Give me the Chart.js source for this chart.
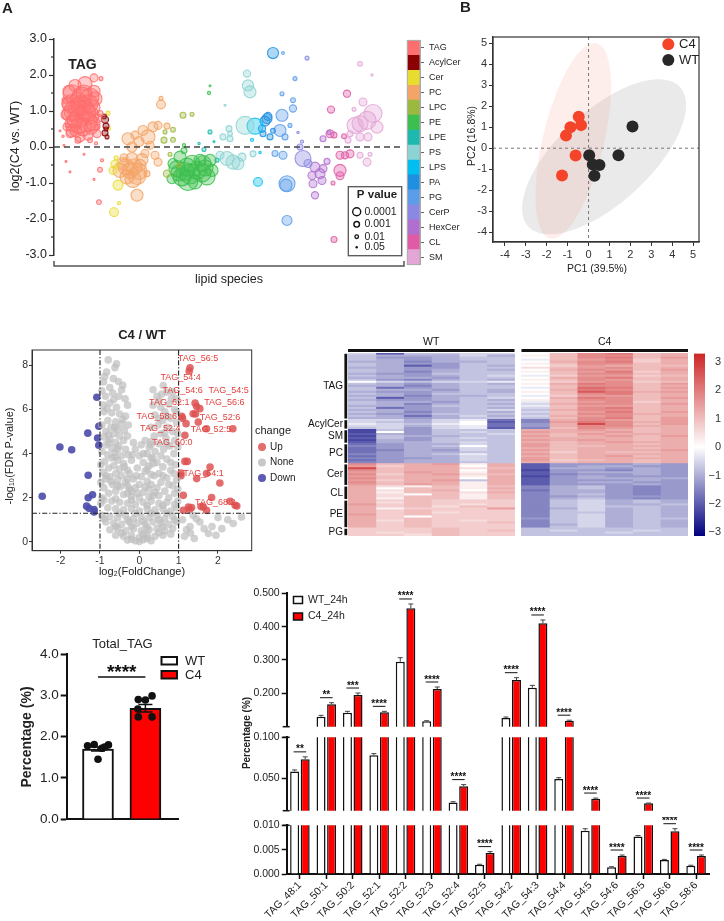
<!DOCTYPE html>
<html>
<head>
<meta charset="utf-8">
<title>C4 vs WT lipidomics</title>
<script src="https://cdn.jsdelivr.net/npm/chart.js@4.4.1/dist/chart.umd.min.js"></script>
<style>
  body { margin: 0; background: #fff; }
  #page { position: relative; width: 724px; height: 921px; overflow: hidden; background: #fff; }
  #page canvas { position: absolute; }
</style>
</head>
<body>
<div id="page"></div>
<script>
// ---------- A: lipid species, [species index, log2(C4/WT), -log10 p] ----------
const lipidClasses = ['TAG','AcylCer','Cer','PC','LPC','PE','LPE','PS','LPS','PA','PG','CerP','HexCer','CL','SM'];
const classColors = ['#FF6E6E','#8B0000','#E8DC2E','#F4A466','#9BB83F','#3CBF4E','#1DB8AE','#8CD3D3','#00BFF0','#1F8FE0','#5C9DEA','#8A88E3','#B06FCF','#E05AA6','#E3A6D6'];
const tagPts = [[40,1.92,2],[18,1.48,4.5],[28,1.39,5],[36,1.39,4.5],[23,1.11,4.5],[31,1.02,5],[16,0.93,4],[26,0.83,5],[36,0.88,4.5],[41,1.34,3.5],[19,0.65,4],[29,0.56,4.5],[39,0.65,3.5],[16,0.37,2],[26,0.28,2.5],[34,0.33,2.5],[43,0.37,2],[14,1.2,3],[21,1.71,3],[31,1.76,3.5],[13,0.56,2],[11,1.3,1.5],[46,0.93,1.5],[43,0.56,1.5],[24,0.19,1.5],[36,0.19,1.2],[20,1.0,5],[33,0.7,5],[24,1.3,4],[30,1.5,4],[38,1.1,4],[12,0.9,2.5],[44,0.8,2],[22,0.45,3],[14,0.6,1],[9,0.3,0.6],[6,0.45,0.5],[10,0.05,0.5],[47,1.9,1],[42,0.1,0.8],
  [17,1.2,4.5],[27,1.15,5],[35,1.2,4.5],[21,0.75,4],[33,0.95,4.5],[25,0.6,4],[37,0.55,3.5],[18,0.45,3],[40,1.55,3],[15,1.55,3],
  [46,-0.63,1.2],[45,-1.53,1.2],[48,-0.37,0.8],[16,-0.69,0.5],[12,-0.4,0.5],[30,-0.2,0.5],[40,-0.9,0.5]];
const acylCerPts = [[51,0.76,1.8],[52,0.58,1.5],[51,0.39,1.5],[53,0.28,1],[50,0.85,1.2],[52,0.5,1]];
const cerPts = [[54,0.94,1],[55,0.51,0.8],[61,-0.48,2],[59,-0.65,2],[64,-1.06,2.5],[60,-1.81,2.2],[65,-1.56,0.8],[62,-0.3,1]];
const pcPts = [[107,1.18,2.2],[107,1.35,1],[74,0.23,3],[94,0.28,3.5],[99,0.56,2.5],[89,0.46,2.5],[104,0.6,2],[81,0.33,2],[113,0.58,1.5],[85,0.15,2.5],[96,0.05,2],[69,-0.46,3],[78,-0.32,3],[66,-0.65,3.5],[76,-0.65,4],[83,-0.79,4.5],[73,-0.83,3.5],[86,-0.51,3],[91,-0.18,2],[101,-0.23,2],[104,-0.42,2],[83,-1.34,3],[93,-0.74,1.5],[78,0,2.5],[70,-0.3,2],[80,-0.55,4],[88,-0.35,3],[72,-0.55,4],[85,-0.68,4],[79,-0.9,4]];
const lpcPts = [[129,0.88,1.5],[138,0.91,1],[119,0.48,1.2],[111,0.42,1],[119,0.2,1.2],[110,0.19,1.5],[113,-0.74,1.8],[116,-0.2,1],[125,-0.5,1]];
const pePts = [[126,-0.28,3],[133,-0.56,4.5],[123,-0.6,4],[128,-0.83,4.5],[134,-0.93,5],[143,-0.65,4.5],[149,-0.46,4],[153,-0.83,4],[156,-0.37,3],[146,-0.37,3],[119,-0.46,2.5],[158,-0.65,3],[118,-0.88,2.5],[141,-0.97,3.5],[138,-0.45,4],[130,-0.1,1.5],[136,-0.75,5],[131,-0.68,4.5],[148,-0.72,4.5],[125,-0.72,4],[151,-0.58,4],[155,1.5,0.8],[156,1.7,0.5],[130,0.05,0.8]];
const lpePts = [[156,0.42,1],[150,-0.07,1],[163,-0.37,1],[145,0.1,0.6],[160,0.15,0.5]];
const psPts = [[193,2.04,1.8],[194,1.71,2.8],[196,1.53,3],[175,0.51,1.5],[169,0.28,1.5],[176,0.23,1.5],[176,0.37,1.2],[171,1.16,0.5],[173,-0.32,3.5],[179,-0.42,3.5],[184,-0.46,3],[166,-0.23,2],[188,-0.28,2],[199,-0.19,1.5],[191,0.6,4.5]];
const lpsPts = [[201,0.58,4],[204,-0.97,2.2],[198,0.2,0.8],[206,-0.15,0.6]];
const paPts = [[219,2.61,2.8],[213,0.79,2.5],[211,0.72,2.5],[208,0.51,1.8],[209,0.37,1.5],[216,0.28,1.5],[214,0.85,2],[219,0.45,1.2]];
const pgPts = [[228,0.88,3],[226,0.46,3],[231,0.28,1.5],[239,1.07,1.8],[241,1.9,1],[239,1.3,1.2],[228,1.48,1],[229,2.61,0.7],[233,-1.02,4],[232,-1.06,3],[233,-2.04,2.5],[229,-0.23,2],[221,-0.18,1.5],[236,0.6,1]];
const cerPPts = [[249,-0.32,4],[254,-0.46,2],[246,0,1.5],[248,0.15,0.8],[253,2.47,1],[244,0.4,0.6]];
const hexCerPts = [[261,-0.56,2.5],[266,-0.74,2.5],[259,-1.02,2],[268,-0.93,2],[261,-1.34,1.8],[269,-0.6,2],[258,-0.79,2],[273,-0.4,1.5],[269,0.23,1.5],[275,0.4,1]];
const clPts = [[277,1.04,1.8],[276,0.37,2],[280,0.33,1.5],[293,1.48,1.8],[286,-0.23,2],[296,-0.19,2],[291,-0.23,1.8],[286,-0.65,3],[286,-0.8,2],[280,-2.57,1.5],[279,-1.0,1],[290,0.3,1.2]];
const smPts = [[319,0.93,4.5],[306,0.65,4],[301,0.6,4],[313,0.74,4.5],[309,1.25,2],[306,2.31,1.2],[314,0.28,2],[306,0.28,2],[296,0.37,1.5],[294,0.19,1.5],[313,-0.42,2],[306,-0.23,1.5],[316,-0.2,1],[323,0.55,3],[300,1.05,1],[318,2.0,0.6]];
const lipidPoints = [tagPts, acylCerPts, cerPts, pcPts, lpcPts, pePts, lpePts, psPts, lpsPts, paPts, pgPts, cerPPts, hexCerPts, clPts, smPts];
const aTicks = [-3,-2,-1,0,1,2,3];
const aMinorTicks = [-2.5,-1.5,-0.5,0.5,1.5,2.5];
const pLegendLabels = ['0.0001','0.001','0.01','0.05'];

// ---------- B: PCA ----------
const pcaC4X = [-0.47,-0.87,-0.36,-1.08,-0.62,-1.27];
const pcaC4Y = [1.5,1.0,1.1,0.6,-0.35,-1.3];
const pcaWTX = [0.03,0.2,0.52,0.28,1.43,2.1];
const pcaWTY = [-0.34,-0.78,-0.8,-1.31,-0.34,1.04];
const c4Ellipse = [-0.73, 0.35, 4.78, 1.46, 76.5];   // centre x, centre y, semi axes, angle
const wtEllipse = [0.74, -0.41, 4.92, 2.2, 42.5];
const pcaTicks = [-4,-3,-2,-1,0,1,2,3,4,5];

// ---------- C: volcano, [log2FC, -log10 FDR] ----------
const noneGenes = [[-0.79,8.25],[-0.58,8.07],[-0.62,7.9],[-0.83,7.7],[-0.53,7.27],[-0.91,7.25],[-0.75,7.0],[-0.36,6.49],[-0.75,6.3],[-0.58,6.1],[-0.86,6.6],[-0.45,6.9],[-0.68,6.75],
  [-0.9,5.9],[-0.7,5.85],[-0.5,5.8],[-0.35,5.7],[-0.8,5.5],[-0.6,5.45],[-0.45,5.35],[-0.95,5.3],[-0.72,5.2],[-0.55,5.1],[-0.38,5.05],[-0.85,5.0],
  [-0.65,4.9],[-0.5,4.8],[-0.9,4.75],[-0.75,4.65],[-0.4,4.6],[-0.6,4.5],[-0.85,4.4],[-0.52,4.35],[-0.7,4.25],[-0.35,4.2],[-0.95,4.1],[-0.62,4.05],[-0.8,3.95],[-0.45,3.9],
  [-0.7,3.8],[-0.55,3.7],[-0.88,3.65],[-0.4,3.55],[-0.65,3.45],[-0.78,3.35],[-0.5,3.3],[-0.3,3.25],[-0.92,3.15],[-0.6,3.1],[-0.45,3.0],[-0.75,2.95],
  [-0.85,2.85],[-0.55,2.8],[-0.35,2.7],[-0.68,2.6],[-0.48,2.5],[-0.9,2.45],[-0.25,2.4],[-0.6,2.3],[-0.78,2.2],[-0.4,2.15],[-0.2,2.05],[-0.95,2.0],
  [-0.88,7.5],[-0.66,7.4],[-0.42,7.1],[-0.95,6.85],[-0.52,6.6],[-0.3,6.2],[-0.92,6.2],[-0.65,6.45],[-0.82,6.05],[-0.42,5.55],[-0.62,5.2],[-0.28,5.3],[-0.78,4.85],[-0.3,4.8],[-0.55,4.2],[-0.78,4.5],[-0.28,3.95],[-0.62,3.85],[-0.98,3.5],[-0.38,3.4],[-0.85,3.0],[-0.55,2.55],[-0.98,2.7],[-0.72,2.75],[-0.3,2.55],
  [0.15,4.6],[0.05,4.4],[0.25,4.3],[-0.1,4.2],[0.2,4.0],[0.0,3.9],[0.3,3.8],[-0.2,3.7],[0.1,3.6],[0.25,3.45],[-0.05,3.35],[0.15,3.2],[-0.25,3.1],[0.3,3.05],[0.05,2.95],[-0.15,2.85],[0.2,2.75],[0.0,2.6],[-0.1,2.45],[0.25,2.4],[0.1,2.25],[-0.3,2.2],[0.35,2.1],[0.0,2.0],
  [-0.15,4.5],[0.3,4.55],[0.1,4.0],[-0.18,3.95],[0.35,3.55],[-0.08,3.0],[0.2,3.3],[-0.3,2.85],[0.15,2.5],[-0.05,2.2],[0.25,2.05],[-0.2,2.3],
  [0.61,7.09],[0.7,6.79],[0.57,6.7],[0.82,6.5],[0.45,6.6],[0.75,6.25],[0.55,6.1],[0.9,6.0],[0.65,5.9],[0.4,5.75],[0.8,5.6],[0.6,5.5],[0.95,5.4],[0.48,5.3],[0.72,5.2],[0.85,5.0],[0.55,4.9],[0.38,4.8],[0.68,4.7],[0.9,4.6],[0.5,4.45],[0.78,4.35],[0.62,4.2],[0.4,4.1],[0.88,4.0],[0.55,3.9],[0.7,3.75],[0.45,3.6],[0.92,3.5],[0.6,3.4],[0.8,3.25],[0.5,3.1],[0.38,3.0],[0.7,2.9],[0.95,2.8],[0.55,2.7],[0.85,2.55],[0.45,2.45],[0.65,2.3],[0.9,2.2],[0.5,2.1],[0.75,2.0],
  [0.35,6.9],[0.85,6.8],[0.5,6.4],[0.95,6.5],[0.35,6.2],[0.7,5.7],[0.3,5.2],[0.5,5.6],[0.95,5.9],[0.65,4.95],[0.98,4.9],[0.3,4.4],[0.7,4.45],[0.98,4.3],[0.35,3.8],[0.8,3.6],[0.6,3.0],[0.88,3.1],[0.3,2.6],[0.75,2.6],[0.98,2.4],[0.4,2.25],
  [-0.9,1.9],[-0.7,1.85],[-0.5,1.8],[-0.3,1.75],[-0.1,1.7],[0.1,1.8],[0.3,1.85],[0.5,1.75],[0.7,1.8],[0.9,1.7],[-0.8,1.55],[-0.6,1.5],[-0.4,1.45],[-0.2,1.5],[0.0,1.4],[0.2,1.5],[0.4,1.45],[0.6,1.5],[0.8,1.4],[0.95,1.55],
  [-0.98,1.75],[-0.6,1.95],[-0.2,1.9],[0.2,1.65],[0.6,1.65],[0.98,1.85],[-0.5,1.3],[-0.1,1.3],[0.3,1.3],[0.7,1.3],
  [-0.95,1.2],[-0.75,1.15],[-0.55,1.1],[-0.35,1.2],[-0.15,1.05],[0.05,1.15],[0.25,1.1],[0.45,1.2],[0.65,1.05],[0.85,1.15],[-0.85,0.9],[-0.65,0.85],[-0.45,0.8],[-0.25,0.9],[-0.05,0.85],[0.15,0.8],[0.35,0.9],[0.55,0.85],[0.75,0.8],[0.95,0.9],
  [-0.9,1.05],[-0.3,1.0],[0.1,0.95],[0.5,1.0],[0.9,1.0],[-0.6,0.7],[-0.2,0.7],[0.2,0.65],[0.6,0.7],[-0.45,0.4],[0.1,0.35],[0.5,0.42],[0.8,0.35],[-0.2,0.12],[0.2,0.15],[0.0,0.02],
  [-0.75,0.55],[-0.55,0.6],[-0.35,0.5],[-0.15,0.6],[0.05,0.5],[0.25,0.55],[0.45,0.6],[0.65,0.5],[0.85,0.6],[-0.6,0.3],[-0.4,0.25],[-0.2,0.3],[0.0,0.2],[0.2,0.3],[0.4,0.25],[0.6,0.3],[-0.3,0.08],[-0.1,0.05],[0.1,0.1],[0.3,0.05],
  [1.37,1.21],[1.54,0.9],[1.29,0.7],[2.39,0.83],[2.1,0.6],[2.6,1.13],[1.76,0.38],[1.3,0.4],[1.1,1.0],[1.15,0.25],[2.0,1.1],[1.85,0.7],[1.2,0.55],[1.45,1.05],[1.65,0.6],[2.25,1.0],[1.95,0.3],[1.4,0.15]];
const upGenes = [[1.29,7.89],[1.27,7.74],[1.42,6.29],[1.46,6.14],[1.54,6.04],[1.37,5.81],[1.43,5.8],[1.08,5.69],[1.1,5.6],[1.5,5.43],[1.19,5.36],[1.71,5.13],[2.38,5.13],[1.16,4.83],[1.16,3.65],[1.22,3.65],[1.06,3.12],[1.06,3.0],[1.8,3.39],[1.71,3.1],[1.46,2.87],[2.05,2.67],[1.12,2.11],[1.84,2.01],[2.31,1.84],[2.48,1.63],[1.33,1.56],[1.28,1.47],[1.57,1.6],[1.12,1.43],[1.63,1.58],[1.71,1.43],[2.44,1.66],[1.25,1.58]];
const downGenes = [[-1.08,6.56],[-1.03,5.24],[-1.31,4.93],[-1.06,4.71],[-1.03,4.38],[-2.02,4.3],[-1.72,4.18],[-1.3,3.02],[-2.47,2.07],[-1.19,2.14],[-1.3,2.0],[-1.34,1.62],[-1.15,1.47],[-1.28,1.52],[-1.15,1.36]];
const upLabels = ['TAG_56:5','TAG_54:4','TAG_54:6','TAG_54:5','TAG_62:1','TAG_56:6','TAG_58:6','TAG_52:6','TAG_52:4','TAG_52:5','TAG_60:0','TAG_64:1','TAG_68:2'];
const upLabelAt = [[0.98,8.3],[0.54,7.47],[0.59,6.86],[1.76,6.86],[0.25,6.31],[1.65,6.31],[-0.07,5.69],[1.54,5.66],[0.02,5.13],[1.31,5.1],[0.33,4.5],[1.12,3.1],[1.42,1.8]];
const fcCut = [-1, 1];
const pCut = 1.3;
const volcanoXTicks = [-2,-1,0,1,2];
const volcanoYTicks = [0,2,4,6,8];

// ---------- D: heatmap z-scores, a..y = -3..3 in 0.25 steps (6 WT | 6 C4) ----------
const hmGroups = ['TAG','AcylCer','SM','PC','Cer','CL','PE','PG'];
const hmGroupSizes = [33,5,7,10,11,7,14,4];
const hmRows = [
  'kejjkk mqtuqr','jiiiki nqttqr','jhhijj mqtuqs','jihijj lqstpr','iigiij mrtupr','jihhjj nqttqr','jiehji mpsrqq','iihhjj oqstqr',
  'jihiji mrtsqs','jigijj nqsupr','ihhjjj mqttqr','jihijk lpsspq','iiihjj mrtuqr','jhgiji nqtsqr','mkjkkl mpstpq','jihiji nrutqs',
  'iigijj mqttqr','jfhijj lqvuqs','jiihji mrutqr','ihhiji nqwurs','jihjjj mqtuqr','iigiij lpssqr','jehijk mrutqs','ihhiji nqttqr',
  'jiihjj lqstpr','jigiji krttqs','iihjjj lqssqr','jfhiji kqtuqr','iihijk jrttqr','jigiji kqsuqs','ihhjjj jqttrr','jifiki krstqr','iihijj jqtuqs',
  'kkiklf grtsqs','kjikme gsutrs','lkjlmf hrxtqs','kkiklf hrttrr','jkhkle gqtsqr',
  'djhjjj rrsrqr','dmhjkj srrsqr','eihjjk rqsrrr','djiijj sqrsqs','ejhjkj rrrrqr','dihjjj srsrqr','eiijkj rqrsrr',
  'fhiikj sqrrqr','ghijmj sqqrrr','fhiikj rqrrqr','fgihkj sqrrrs','fhiijj rprqqr','ghijlj sqrrrr','fhiikj rqrsqr','ghhikj sqrrrr','fhiikj spqrqr','ghiijj rqrrqr',
  'tqrsnr ehhhih','sprrmr ehiihh','xqrroq eiihih','tqrrmr dhhgih','sqsrnr ehiiih','tprsoq eghhih','sqrrnr dhihhh','tqrrmr ehiiii','sprsjr ehhhih','tqrrnr ehiihh','sqsrnr ehhhih',
  'ronqnq gijhgh','rmqqnr gijhgh','roqrmq fiihgh','rnqqor giihgh','romqnq gijhgh','roqqnq ghihhh','rnqqnq gijhgh',
  'rpqppp gjkiji','roqppp gjkiji','spqpop gjkiij','rpqoqp gjkjji','rnppps gikiji','rpqppp gjkiji','rpqopp gjjiji','spqppp gjkiji','rpmppp gjkiji','rpqppp hjkijj','roqpop gjkiji','rpqppq gjkiji','rpqppp gikiji','rpqppp gjkiji',
  'pppqpp jjjjjj','pppqpq jkjjkj','popqpp jjjkjj','ppoqpp jjjjjj'];
const hmMin = -3.13, hmMax = 3.29;
const hmTicks = [-3,-2,-1,0,1,2,3];

// ---------- E: total TAG ----------
const totalTagGroups = ['WT','C4'];
const totalTagMean = [1.70, 2.69];
const totalTagSem = [0.05, 0.09];
const totalTagWT = [1.78, 1.81, 1.72, 1.80, 1.45, 1.75];
const totalTagC4 = [2.90, 2.99, 2.89, 2.67, 2.48, 2.48];
const wtJitter = [-0.22, -0.08, 0.08, 0.22, 0.0, 0.14];
const c4Jitter = [-0.15, 0.14, 0.0, -0.16, -0.15, 0.14];
const eSig = '****';
const eSigLevel = 3.45;

// ---------- F: TAG species, broken axis ----------
const fLabels = ['TAG_48:1','TAG_50:1','TAG_50:2','TAG_52:1','TAG_52:2','TAG_52:3','TAG_52:4','TAG_52:5','TAG_54:2','TAG_54:3','TAG_54:4','TAG_54:5','TAG_54:6','TAG_56:5','TAG_56:6','TAG_58:6'];
const wt24 = [0.058, 0.130, 0.142, 0.078, 0.295, 0.116, 0.020, 0.0019, 0.126, 0.217, 0.049, 0.0089, 0.0014, 0.0077, 0.0029, 0.0017];
const c424 = [0.073, 0.167, 0.195, 0.143, 0.455, 0.213, 0.040, 0.0043, 0.240, 0.410, 0.118, 0.0248, 0.0037, 0.0192, 0.0088, 0.0037];
const wtErr = [0.002, 0.004, 0.004, 0.002, 0.012, 0.002, 0.001, 0.0001, 0.003, 0.007, 0.0015, 0.0004, 0.0001, 0.0002, 0.0001, 0.0001];
const c4Err = [0.003, 0.005, 0.006, 0.003, 0.013, 0.006, 0.002, 0.0003, 0.007, 0.010, 0.0015, 0.0007, 0.0002, 0.0002, 0.0005, 0.0002];
const fSig = ['**','**','***','****','****','****','****','****','****','****','****','****','****','****','****','****'];

// ================= drawing =================
const FONT = "'Liberation Sans', Arial, Helvetica, sans-serif";
const F = (s, b) => (b ? 'bold ' : '') + s + 'px ' + FONT;
Chart.defaults.font.family = FONT;
Chart.defaults.color = '#222';
Chart.defaults.animation = false;
Chart.defaults.plugins.legend.display = false;
Chart.defaults.plugins.tooltip.enabled = false;
Chart.defaults.layout.autoPadding = false;

const page = document.getElementById('page');
const fixW = w => s => { s.width = w; };
const fixH = h => s => { s.height = h; };
const setTicks = list => s => { s.ticks = list.map(v => ({ value: v })); };

function rgba(hex, a) {
  const n = parseInt(hex.slice(1), 16);
  return 'rgba(' + (n >> 16) + ',' + ((n >> 8) & 255) + ',' + (n & 255) + ',' + a + ')';
}

function drawItems(ctx, items, ox, oy) {
  items.forEach(it => {
    ctx.save();
    ctx.translate(-ox, -oy);
    if (it.rect) {
      const [x, y, w, h] = it.rect;
      if (it.fill) { ctx.fillStyle = it.fill; ctx.fillRect(x, y, w, h); }
      if (it.stroke) { ctx.strokeStyle = it.stroke; ctx.lineWidth = it.lw || 1; ctx.strokeRect(x, y, w, h); }
    } else if (it.circle) {
      const [x, y, r] = it.circle;
      ctx.beginPath(); ctx.arc(x, y, r, 0, Math.PI * 2);
      if (it.fill) { ctx.fillStyle = it.fill; ctx.fill(); }
      if (it.stroke) { ctx.strokeStyle = it.stroke; ctx.lineWidth = it.lw || 1; ctx.stroke(); }
    } else {
      ctx.font = it.f || F(13);
      ctx.fillStyle = it.c || '#222';
      ctx.textAlign = it.a || 'left';
      ctx.textBaseline = 'middle';
      ctx.translate(it.x, it.y);
      if (it.r) ctx.rotate(it.r);
      ctx.fillText(it.t, 0, 0);
    }
    ctx.restore();
  });
}

function makeChart(left, top, w, h, config, items) {
  const cv = document.createElement('canvas');
  cv.width = w; cv.height = h;
  cv.style.left = left + 'px'; cv.style.top = top + 'px';
  cv.style.width = w + 'px'; cv.style.height = h + 'px';
  page.appendChild(cv);
  config.options = Object.assign({ responsive: false, devicePixelRatio: 1 }, config.options);
  config.plugins = (config.plugins || []).concat([{ id: 'pageItems', afterDraw: ch => drawItems(ch.ctx, items || [], left, top) }]);
  return new Chart(cv, config);
}

// ---- A ----
const aDecor = {
  id: 'aDecor',
  afterDatasetsDraw(ch) {
    const { ctx, chartArea: a, scales: { y } } = ch;
    ctx.save();
    ctx.strokeStyle = '#444'; ctx.lineWidth = 1.5; ctx.setLineDash([6, 4]);
    const y0 = y.getPixelForValue(0);
    ctx.beginPath(); ctx.moveTo(a.left, y0); ctx.lineTo(a.right, y0); ctx.stroke();
    ctx.setLineDash([]);
    ctx.strokeStyle = '#333'; ctx.lineWidth = 1.2;
    aMinorTicks.forEach(v => { const p = y.getPixelForValue(v); ctx.beginPath(); ctx.moveTo(a.left - 3, p); ctx.lineTo(a.left, p); ctx.stroke(); });
    ctx.strokeStyle = '#555'; ctx.lineWidth = 1.5;
    ctx.beginPath(); ctx.moveTo(a.left, a.bottom + 6); ctx.lineTo(a.left, a.bottom + 11); ctx.lineTo(a.right, a.bottom + 11); ctx.lineTo(a.right, a.bottom + 6); ctx.stroke();
    ctx.restore();
  }
};
makeChart(0, 0, 406, 300, {
  type: 'bubble',
  data: { datasets: lipidClasses.map((name, i) => ({
    label: name,
    data: lipidPoints[i].map(p => ({ x: p[0], y: p[1], r: p[2] * 2 })),
    backgroundColor: rgba(classColors[i], 0.36),
    borderColor: rgba(classColors[i], 0.85),
    borderWidth: 1.1
  })) },
  options: {
    layout: { padding: { top: 39, right: 2, bottom: 45, left: 0 } },
    scales: {
      x: { type: 'linear', min: 0, max: 350, display: false },
      y: { min: -3, max: 3, afterBuildTicks: setTicks(aTicks), afterFit: fixW(54),
        ticks: { callback: v => v.toFixed(1), font: { size: 12.5 }, color: '#222', padding: 2 },
        grid: { drawOnChartArea: false, tickLength: 5, color: '#333', tickWidth: 1.2 },
        border: { color: '#333', width: 1.5 } }
    }
  },
  plugins: [aDecor]
}, [
  { t: 'A', x: 2, y: 8.5, f: F(15, 1) },
  { t: 'TAG', x: 82.5, y: 65, f: F(14, 1), a: 'center' },
  { t: 'log2(C4 vs. WT)', x: 16, y: 146, f: F(12.5), a: 'center', r: -Math.PI / 2 },
  { t: 'lipid species', x: 229, y: 280, f: F(12.5), a: 'center' },
  { rect: [348.3, 186.7, 53.4, 69], fill: '#fff', stroke: '#555', lw: 1.3 },
  { t: 'P value', x: 377, y: 194.5, f: F(11.5, 1), a: 'center' },
  { circle: [356.7, 211.7, 4], stroke: '#111', lw: 1.4 },
  { circle: [356.7, 224.3, 2.8], stroke: '#111', lw: 1.4 },
  { circle: [356.7, 236.7, 1.8], stroke: '#111', lw: 1.3 },
  { circle: [356.7, 247.3, 1.2], fill: '#111' },
  { t: pLegendLabels[0], x: 364.5, y: 211.7, f: F(10.5) },
  { t: pLegendLabels[1], x: 364.5, y: 224.3, f: F(10.5) },
  { t: pLegendLabels[2], x: 364.5, y: 236.7, f: F(10.5) },
  { t: pLegendLabels[3], x: 364.5, y: 247.3, f: F(10.5) }
]);

// A colour key
makeChart(400, 30, 80, 245, {
  type: 'bar',
  data: { labels: lipidClasses, datasets: [{ data: lipidClasses.map(() => 1), backgroundColor: classColors, barPercentage: 1, categoryPercentage: 1, borderWidth: 0 }] },
  options: {
    indexAxis: 'y',
    layout: { padding: { left: 7.3, top: 9, bottom: 9, right: 0 } },
    scales: {
      x: { display: false, min: 0, max: 1 },
      y: { position: 'right', afterFit: fixW(60), ticks: { font: { size: 9 }, color: '#222', padding: 5 },
        grid: { drawOnChartArea: false, offset: false, tickLength: 4, color: '#666' }, border: { color: '#aaa' } }
    }
  },
  plugins: [{ id: 'keyBox', afterDraw(ch) { const a = ch.chartArea, c = ch.ctx; c.save(); c.strokeStyle = '#aaa'; c.lineWidth = 1; c.strokeRect(a.left, a.top, a.width, a.height); c.restore(); } }]
});

// ---- B ----
const pcaDecor = {
  id: 'pcaDecor',
  beforeDatasetsDraw(ch) {
    const { ctx, chartArea: a, scales: { x, y } } = ch;
    ctx.save();
    ctx.beginPath(); ctx.rect(a.left, a.top, a.width, a.height); ctx.clip();
    [[wtEllipse, 'rgba(150,150,150,0.2)'], [c4Ellipse, 'rgba(244,120,100,0.13)']].forEach(([e, fill]) => {
      const cx = x.getPixelForValue(e[0]), cy = y.getPixelForValue(e[1]);
      const ux = x.getPixelForValue(e[0] + 1) - cx, uy = cy - y.getPixelForValue(e[1] + 1);
      const ang = e[4] * Math.PI / 180;
      ctx.beginPath();
      for (let k = 0; k <= 90; k++) {
        const t = k / 90 * Math.PI * 2;
        const ex = e[2] * Math.cos(t) * Math.cos(ang) - e[3] * Math.sin(t) * Math.sin(ang);
        const ey = e[2] * Math.cos(t) * Math.sin(ang) + e[3] * Math.sin(t) * Math.cos(ang);
        const px = cx + ex * ux, py = cy - ey * uy;
        if (k === 0) ctx.moveTo(px, py); else ctx.lineTo(px, py);
      }
      ctx.closePath(); ctx.fillStyle = fill; ctx.fill();
    });
    ctx.strokeStyle = '#777'; ctx.lineWidth = 1; ctx.setLineDash([3, 3]);
    const x0 = x.getPixelForValue(0), y0 = y.getPixelForValue(0);
    ctx.beginPath(); ctx.moveTo(x0, a.top); ctx.lineTo(x0, a.bottom); ctx.moveTo(a.left, y0); ctx.lineTo(a.right, y0); ctx.stroke();
    ctx.restore();
  },
  afterDraw(ch) {
    const a = ch.chartArea, c = ch.ctx;
    c.save(); c.strokeStyle = '#333'; c.lineWidth = 1.2; c.strokeRect(a.left, a.top, a.width, a.height); c.restore();
  }
};
const pcaAxis = (min, max, fit) => ({
  min, max, afterBuildTicks: setTicks(pcaTicks), afterFit: fit,
  ticks: { font: { size: 11 }, color: '#333', padding: 2 },
  grid: { drawOnChartArea: false, tickLength: 4, color: '#333' },
  border: { color: '#333', width: 1.2 }
});
makeChart(440, 0, 284, 300, {
  type: 'scatter',
  data: { datasets: [
    { label: 'C4', data: pcaC4X.map((v, i) => ({ x: v, y: pcaC4Y[i] })), backgroundColor: '#F4452A', borderWidth: 0, pointRadius: 6 },
    { label: 'WT', data: pcaWTX.map((v, i) => ({ x: v, y: pcaWTY[i] })), backgroundColor: '#282828', borderWidth: 0, pointRadius: 6 }
  ] },
  options: {
    layout: { padding: { top: 37, right: 25, left: 0, bottom: 0 } },
    scales: { x: pcaAxis(-4.57, 5.28, fixH(58)), y: pcaAxis(-4.47, 5.3, fixW(53)) }
  },
  plugins: [pcaDecor]
}, [
  { t: 'B', x: 460, y: 7.5, f: F(15, 1) },
  { circle: [668.3, 44.3, 6], fill: '#F4452A' }, { t: 'C4', x: 679, y: 44.8, f: F(13) },
  { circle: [668.3, 60, 6], fill: '#282828' }, { t: 'WT', x: 679, y: 60.5, f: F(13) },
  { t: 'PC1 (39.5%)', x: 597, y: 269, f: F(10.5), a: 'center' },
  { t: 'PC2 (16.8%)', x: 472, y: 136, f: F(10.5), a: 'center', r: -Math.PI / 2 }
]);

// ---- C ----
const volcanoDecor = {
  id: 'volcanoDecor',
  afterDatasetsDraw(ch) {
    const { ctx, chartArea: a, scales: { x, y } } = ch;
    ctx.save();
    ctx.strokeStyle = '#222'; ctx.lineWidth = 1.1; ctx.setLineDash([5, 2, 1.2, 2]);
    fcCut.forEach(v => { const px = x.getPixelForValue(v); ctx.beginPath(); ctx.moveTo(px, a.top); ctx.lineTo(px, a.bottom); ctx.stroke(); });
    const py = y.getPixelForValue(pCut);
    ctx.beginPath(); ctx.moveTo(a.left, py); ctx.lineTo(a.right, py); ctx.stroke();
    ctx.setLineDash([]);
    ctx.strokeStyle = '#333'; ctx.lineWidth = 1; ctx.strokeRect(a.left, a.top, a.width, a.height);
    ctx.font = F(9); ctx.fillStyle = '#E3403C'; ctx.textBaseline = 'middle';
    upLabels.forEach((t, i) => ctx.fillText(t, x.getPixelForValue(upLabelAt[i][0]), y.getPixelForValue(upLabelAt[i][1])));
    ctx.restore();
  }
};
const volcanoAxis = (min, max, list, fit) => ({
  min, max, afterBuildTicks: setTicks(list), afterFit: fit,
  ticks: { font: { size: 10.5 }, color: '#333', padding: 1 },
  grid: { drawOnChartArea: false, tickLength: 3, color: '#333' },
  border: { color: '#333', width: 1 }
});
const toXY = p => ({ x: p[0], y: p[1] });
makeChart(0, 330, 310, 260, {
  type: 'scatter',
  data: { datasets: [
    { data: noneGenes.map(toXY), backgroundColor: 'rgba(190,190,190,0.7)', borderWidth: 0, pointRadius: 3.8 },
    { data: upGenes.map(toXY), backgroundColor: 'rgba(222,82,82,0.85)', borderWidth: 0, pointRadius: 3.8 },
    { data: downGenes.map(toXY), backgroundColor: 'rgba(78,78,172,0.92)', borderWidth: 0, pointRadius: 3.8 }
  ] },
  options: {
    layout: { padding: { top: 20, right: 58.3, left: 0, bottom: 0 } },
    scales: { x: volcanoAxis(-2.73, 2.86, volcanoXTicks, fixH(39.3)), y: volcanoAxis(-0.4, 8.7, volcanoYTicks, fixW(32)) }
  },
  plugins: [volcanoDecor]
}, [
  { t: 'C', x: 2, y: 321.7, f: F(15, 1) },
  { t: 'C4 / WT', x: 142, y: 335, f: F(13, 1), a: 'center' },
  { t: '-log\u2081\u2080(FDR P-value)', x: 10, y: 456, f: F(11), a: 'center', r: -Math.PI / 2 },
  { t: 'log\u2082(FoldChange)', x: 142, y: 571.5, f: F(11), a: 'center' },
  { t: 'change', x: 255, y: 431, f: F(11) },
  { circle: [262, 447, 4], fill: 'rgba(222,82,82,0.85)' }, { t: 'Up', x: 270, y: 447, f: F(10) },
  { circle: [262, 462.5, 4], fill: 'rgba(190,190,190,0.85)' }, { t: 'None', x: 270, y: 462.5, f: F(10) },
  { circle: [262, 478, 4], fill: 'rgba(78,78,172,0.92)' }, { t: 'Down', x: 270, y: 478, f: F(10) }
]);

// ---- D ----
const zOf = ch => (ch.charCodeAt(0) - 109) * 0.25;
function heatColor(v) {
  const lo = [0, 0, 128], hi = [205, 38, 38];
  const t = v < 0 ? Math.min(1, -v / -hmMin) : Math.min(1, v / hmMax);
  const c = v < 0 ? lo : hi;
  return 'rgb(' + [0, 1, 2].map(k => Math.round(255 + (c[k] - 255) * t)).join(',') + ')';
}
const hmCells = hmRows.map(r => r.replace(' ', ''));
const hmDatasets = [];
for (let c = 0; c < 12; c++) {
  if (c === 6) hmDatasets.push({ data: hmCells.map(() => 0.25), backgroundColor: 'rgba(0,0,0,0)', borderWidth: 0, inflateAmount: 0 });
  hmDatasets.push({ data: hmCells.map(() => 1), backgroundColor: hmCells.map(r => heatColor(zOf(r[c]))), borderWidth: 0, inflateAmount: 0.4 });
}
const hmDecor = {
  id: 'hmDecor',
  afterDraw(ch) {
    const { ctx, chartArea: a, scales: { x } } = ch;
    const rowH = a.height / hmCells.length;
    ctx.save();
    ctx.fillStyle = '#111'; ctx.font = F(10.5); ctx.textBaseline = 'middle';
    [[0, 6, 'WT'], [6.25, 12.25, 'C4']].forEach(([s, e, name]) => {
      const x0 = x.getPixelForValue(s), x1 = x.getPixelForValue(e);
      ctx.fillRect(x0, a.top - 4, x1 - x0, 3);
      ctx.textAlign = 'center';
      ctx.fillText(name, (x0 + x1) / 2, a.top - 11);
    });
    let r = 0;
    ctx.textAlign = 'right'; ctx.font = F(10);
    hmGroups.forEach((g, i) => {
      const y0 = a.top + r * rowH, y1 = a.top + (r + hmGroupSizes[i]) * rowH;
      ctx.fillRect(a.left - 3.6, y0 + 0.8, 2.8, y1 - y0 - 1.6);
      ctx.fillText(g, a.left - 5, (y0 + y1) / 2);
      r += hmGroupSizes[i];
    });
    ctx.restore();
  }
};
makeChart(300, 330, 394, 215, {
  type: 'bar',
  data: { labels: hmCells.map((_, i) => i), datasets: hmDatasets },
  options: {
    indexAxis: 'y',
    datasets: { bar: { barPercentage: 1, categoryPercentage: 1 } },
    layout: { padding: { left: 48, right: 6, top: 23, bottom: 9 } },
    scales: {
      x: { stacked: true, min: 0, max: 12.25, display: false },
      y: { stacked: true, display: false }
    }
  },
  plugins: [hmDecor]
}, [{ t: 'D', x: 303.3, y: 322, f: F(15, 1) }]);

// D colour bar
makeChart(690, 345, 34, 200, {
  type: 'bar',
  data: { labels: ['z'], datasets: [{
    data: [[hmMin, hmMax]], barPercentage: 1, categoryPercentage: 1, borderWidth: 0,
    backgroundColor: c => {
      const ch = c.chart;
      if (!ch.chartArea) return '#fff';
      const ys = ch.scales.y;
      const g = ch.ctx.createLinearGradient(0, ys.getPixelForValue(hmMin), 0, ys.getPixelForValue(hmMax));
      g.addColorStop(0, heatColor(hmMin));
      g.addColorStop((0 - hmMin) / (hmMax - hmMin), '#ffffff');
      g.addColorStop(1, heatColor(hmMax));
      return g;
    }
  }] },
  options: {
    layout: { padding: { left: 4, top: 8, bottom: 9, right: 3 } },
    scales: {
      x: { display: false },
      y: { position: 'right', min: hmMin, max: hmMax, afterBuildTicks: setTicks(hmTicks), afterFit: fixW(16),
        ticks: { callback: v => (v < 0 ? '\u2212' + (-v) : String(v)), font: { size: 11 }, color: '#333', padding: 2, crossAlign: 'far' },
        grid: { display: false }, border: { display: false } }
    }
  }
});

// ---- E ----
const eDecor = {
  id: 'eDecor',
  afterDatasetsDraw(ch) {
    const { ctx, scales: { x, y } } = ch;
    ctx.save();
    ctx.strokeStyle = '#111'; ctx.lineWidth = 1.5;
    totalTagMean.forEach((m, i) => {
      const px = x.getPixelForValue(i + 1);
      const y0 = y.getPixelForValue(m - totalTagSem[i]), y1 = y.getPixelForValue(m + totalTagSem[i]);
      ctx.beginPath(); ctx.moveTo(px, y0); ctx.lineTo(px, y1);
      ctx.moveTo(px - 7, y1); ctx.lineTo(px + 7, y1); ctx.moveTo(px - 7, y0); ctx.lineTo(px + 7, y0); ctx.stroke();
    });
    const ly = y.getPixelForValue(eSigLevel);
    ctx.beginPath(); ctx.moveTo(x.getPixelForValue(1), ly); ctx.lineTo(x.getPixelForValue(2), ly); ctx.stroke();
    ctx.fillStyle = '#111'; ctx.font = F(19, 1); ctx.textAlign = 'center'; ctx.textBaseline = 'alphabetic';
    ctx.fillText(eSig, x.getPixelForValue(1.5), ly + 1.5);
    ctx.restore();
  }
};
makeChart(0, 630, 215, 210, {
  type: 'bar',
  data: { datasets: [
    { type: 'bar', data: totalTagMean.map((m, i) => ({ x: i + 1, y: m })), backgroundColor: ['#ffffff', '#ff0000'], borderColor: '#111', borderWidth: 2, barThickness: 31, order: 2 },
    { type: 'scatter', data: totalTagWT.map((v, i) => ({ x: 1 + wtJitter[i], y: v })).concat(totalTagC4.map((v, i) => ({ x: 2 + c4Jitter[i], y: v }))), backgroundColor: '#111', borderWidth: 0, pointRadius: 3.8, order: 1 }
  ] },
  options: {
    layout: { padding: { top: 24.3, right: 36.4, left: 0, bottom: 0 } },
    scales: {
      x: { type: 'linear', offset: false, min: 0.34, max: 2.7, afterFit: fixH(21), ticks: { display: false }, grid: { display: false }, border: { color: '#111', width: 2 } },
      y: { min: 0, max: 4, afterBuildTicks: setTicks([0, 1, 2, 3, 4]), afterFit: fixW(66.7),
        ticks: { callback: v => v.toFixed(1), font: { size: 13.5 }, color: '#222', padding: 2 },
        grid: { drawOnChartArea: false, tickLength: 6, tickWidth: 2, color: '#111' },
        border: { color: '#111', width: 2 } }
    }
  },
  plugins: [eDecor]
}, [
  { t: 'E', x: 2, y: 625, f: F(15, 1) },
  { t: 'Total_TAG', x: 122.5, y: 644, f: F(13), a: 'center' },
  { t: 'Percentage (%)', x: 27, y: 737, f: F(14, 1), a: 'center', r: -Math.PI / 2 },
  { rect: [161.5, 657, 15.5, 7.5], fill: '#fff', stroke: '#111', lw: 2 }, { t: totalTagGroups[0], x: 185, y: 661, f: F(13) },
  { rect: [161.5, 671, 15.5, 7.5], fill: '#ff0000', stroke: '#111', lw: 2 }, { t: totalTagGroups[1], x: 185, y: 675, f: F(13) }
]);

// ---- F (three stacked segments of one broken axis) ----
const fDecor = {
  id: 'fDecor',
  afterDatasetsDraw(ch) {
    const { ctx, scales: { y } } = ch;
    const inSeg = v => v > y.min && v <= y.max;
    const wtMeta = ch.getDatasetMeta(0).data, c4Meta = ch.getDatasetMeta(1).data;
    ctx.save();
    ctx.strokeStyle = '#444'; ctx.lineWidth = 1;
    [[wtMeta, wt24, wtErr], [c4Meta, c424, c4Err]].forEach(([meta, vals, errs]) => {
      vals.forEach((v, i) => {
        if (!inSeg(v)) return;
        const bx = meta[i].x, y0 = y.getPixelForValue(v), y1 = y.getPixelForValue(v + errs[i]);
        ctx.beginPath(); ctx.moveTo(bx, y0); ctx.lineTo(bx, y1); ctx.moveTo(bx - 2.5, y1); ctx.lineTo(bx + 2.5, y1); ctx.stroke();
      });
    });
    ctx.strokeStyle = '#111'; ctx.fillStyle = '#111'; ctx.font = F(10, 1); ctx.textAlign = 'center'; ctx.textBaseline = 'alphabetic';
    fSig.forEach((s, i) => {
      const top = Math.max(wt24[i] + wtErr[i], c424[i] + c4Err[i]);
      if (!inSeg(top)) return;
      const ly = y.getPixelForValue(top) - 5;
      const x0 = wtMeta[i].x, x1 = c4Meta[i].x;
      ctx.beginPath(); ctx.moveTo(x0 - 1, ly); ctx.lineTo(x1 + 1, ly); ctx.stroke();
      ctx.fillText(s, (x0 + x1) / 2, ly + 0.5);
    });
    ctx.restore();
  }
};
function fBreaks(edges) {
  return { id: 'fBreaks', afterDraw(ch) {
    const { ctx, chartArea: a } = ch;
    ctx.save(); ctx.strokeStyle = '#111'; ctx.lineWidth = 1.5;
    edges.forEach(e => { const yy = e === 'top' ? a.top : a.bottom; ctx.beginPath(); ctx.moveTo(a.left - 4, yy); ctx.lineTo(a.left + 3, yy); ctx.stroke(); });
    ctx.restore();
  } };
}
function fSegment(top, h, pad, yMin, yMax, yTicks, showX, edges, items) {
  const xAxis = { display: showX,
    ticks: { font: { size: 10.5 }, color: '#222', minRotation: 45, maxRotation: 45, autoSkip: false, padding: 0 },
    grid: { offset: false, drawOnChartArea: false, tickLength: 5, color: '#111', tickWidth: 1.5 },
    border: { color: '#111', width: 2 } };
  if (showX) xAxis.afterFit = fixH(47);
  return makeChart(230, top, 494, h, {
    type: 'bar',
    data: { labels: fLabels, datasets: [
      { label: 'WT_24h', data: wt24, backgroundColor: '#ffffff', borderColor: '#111', borderWidth: 1.5, clip: 0, categoryPercentage: 0.8, barPercentage: 0.85 },
      { label: 'C4_24h', data: c424, backgroundColor: '#ff0000', borderColor: '#111', borderWidth: 1.5, clip: 0, categoryPercentage: 0.8, barPercentage: 0.85 }
    ] },
    options: {
      layout: { padding: { top: pad[0], bottom: pad[1], right: 14.7, left: 0 } },
      scales: {
        x: xAxis,
        y: { min: yMin, max: yMax, afterBuildTicks: setTicks(yTicks), afterFit: fixW(56.7),
          ticks: { callback: v => v.toFixed(3), font: { size: 10.5 }, color: '#222', padding: 2 },
          grid: { drawOnChartArea: false, tickLength: 5, color: '#111', tickWidth: 1.5 },
          border: { color: '#111', width: 2 } }
      }
    },
    plugins: [fDecor, fBreaks(edges)]
  }, items);
}
fSegment(585, 336, [8.3, 194.3], 0.1, 0.5, [0.2, 0.3, 0.4, 0.5], false, ['bottom'], [
  { t: 'F', x: 222.5, y: 597.5, f: F(13, 1) },
  { rect: [293.5, 596.5, 9, 7], fill: '#fff', stroke: '#111', lw: 1.5 }, { t: 'WT_24h', x: 308, y: 600, f: F(10.5) },
  { rect: [293.5, 613, 9, 7], fill: '#ff0000', stroke: '#111', lw: 1.5 }, { t: 'C4_24h', x: 308, y: 616.5, f: F(10.5) },
  { t: 'Percentage (%)', x: 247, y: 733, f: F(10, 1), a: 'center', r: -Math.PI / 2 }
]);
fSegment(729, 90, [4.3, 4.7], 0.01, 0.1, [0.05, 0.1], false, ['top', 'bottom']);
fSegment(817, 104, [3.7, 0], 0, 0.01, [0, 0.005, 0.01], true, ['top']);
</script>
</body>
</html>
